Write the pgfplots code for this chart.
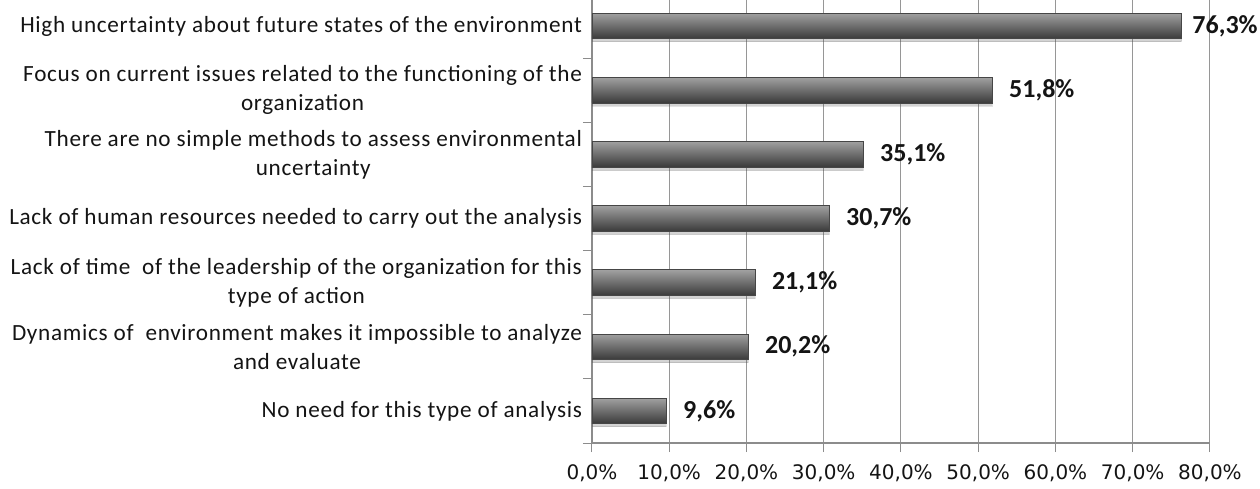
\documentclass[border=0pt]{standalone}
\usepackage{pgfplots}
\pgfplotsset{compat=1.18}
\usetikzlibrary{shadows}
\usepackage{fontspec}
\setmainfont{Carlito}
\newfontfamily\dejavu{DejaVu Sans}
\newfontfamily\catfont[LetterSpace=3]{Carlito}
\definecolor{gridc}{RGB}{150,150,150}
\definecolor{axisc}{RGB}{140,140,140}
\definecolor{bartop}{RGB}{160,160,160}
\definecolor{barmid}{RGB}{85,85,85}
\definecolor{barbot}{RGB}{58,58,58}
\definecolor{bardraw}{RGB}{70,70,70}
\definecolor{txt}{RGB}{20,20,20}
\pgfplotsset{mybar/.style={draw=bardraw, line width=0.4pt, top color=bartop, middle color=barmid, bottom color=barbot, point meta=x,
  drop shadow={shadow xshift=0pt, shadow yshift=-1.5pt, opacity=0.15, fill=gray}}}
\begin{document}
\begin{tikzpicture}
\begin{axis}[
  at={(296pt,22.5pt)}, anchor=south west,
  scale only axis, width=309pt, height=224.5pt,
  xmin=0, xmax=80, ymin=0.5, ymax=7.5,
  xtick={0,10,...,80},
  xticklabels={{0,0\%},{10,0\%},{20,0\%},{30,0\%},{40,0\%},{50,0\%},{60,0\%},{70,0\%},{80,0\%}},
  xticklabel style={font=\dejavu\fontsize{10}{12}\selectfont, text=txt, yshift=-3pt},
  ytick={0.5,1.5,...,7.5},
  yticklabels={},
  tick align=outside, major tick length=4.5pt,
  tick style={axisc, line width=0.5pt},
  axis x line*=bottom, axis y line*=left,
  axis line style={axisc, line width=0.6pt, -},
  xmajorgrids, major x grid style={gridc, line width=0.5pt},
  extra y ticks={1,2,3,4,5,6,7},
  extra y tick labels={
    No need for this type of analysis,
    {Dynamics of\ \ environment makes it impossible to analyze\\and evaluate},
    {Lack of time\ \ of the leadership of the organization for this\\type of action},
    Lack of human resources needed to carry out the analysis,
    {There are no simple methods to assess environmental\\uncertainty},
    {Focus on current issues related to the functioning of the\\organization},
    High uncertainty about future states of the environment},
  extra y tick style={major tick length=0pt, yticklabel style={align=center, font=\catfont\fontsize{11.6}{14.5}\selectfont, text=txt, anchor=east, xshift=-1.5pt}},
  xbar, bar shift=0pt, bar width=12.75pt,
  nodes near coords={\pgfmathprintnumber[use comma, fixed, fixed zerofill, precision=1, assume math mode=true]{\pgfplotspointmeta}\%},
  nodes near coords style={font=\bfseries\fontsize{13}{15}\selectfont, text=txt, anchor=west, xshift=5pt},
  clip=false,
]
\addplot[mybar] coordinates {(9.6,1)};
\addplot[mybar] coordinates {(20.2,2)};
\addplot[mybar] coordinates {(21.1,3)};
\addplot[mybar] coordinates {(30.7,4)};
\addplot[mybar] coordinates {(35.1,5)};
\addplot[mybar] coordinates {(51.8,6)};
\addplot[mybar, nodes near coords style={xshift=-3pt}] coordinates {(76.3,7)};
\end{axis}
\pgfresetboundingbox
\useasboundingbox (0,0) rectangle (630pt,244pt);
\end{tikzpicture}
\end{document}
